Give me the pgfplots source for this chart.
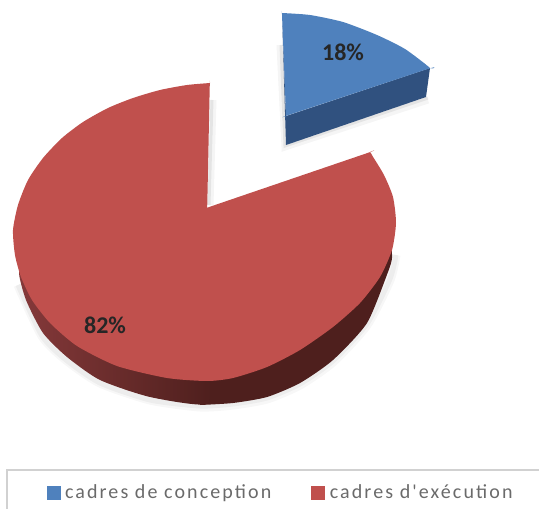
\documentclass[border=0pt]{standalone}
\usepackage{fontspec}
\setmainfont{Carlito}
\newfontfamily\legfont[LetterSpace=10.5]{Carlito}
\usepackage{pgfplots}
\pgfplotsset{compat=1.18}
\definecolor{redtop}{HTML}{C0504D}
\definecolor{redside}{HTML}{4E1F1D}
\definecolor{redsideL}{HTML}{85393A}
\definecolor{bluetop}{HTML}{4F81BD}
\definecolor{blueside}{HTML}{30517F}
\definecolor{txt}{HTML}{6A6A6A}
\begin{document}
\begin{tikzpicture}
\begin{axis}[
  width=539pt, height=509pt, scale only axis,
  xmin=0, xmax=539, ymin=0, ymax=509, y dir=reverse,
  hide axis, clip=true,
  legend columns=2,
  legend style={at={(axis cs:46.5,492.5)}, anchor=west, draw=none, fill=none,
    inner sep=0pt, outer sep=0pt,
    font=\legfont\fontsize{20}{20}\selectfont\color{txt},
    /tikz/every odd column/.append style={column sep=2.5pt},
    /tikz/every even column/.append style={column sep=38pt}},
  legend cell align=left,
  legend image code/.code={\fill[#1] (0pt,-7pt) rectangle (14pt,7pt);},
]
% page frame, keeps the picture at the reference's size
\addplot[forget plot, draw=none] coordinates {(0,0)(539,509)};
% legend frame
\addplot[forget plot, draw=black!18, line width=1.2pt] coordinates {(7,509)(7,470)(539,470)};
% soft shadows
\addplot[forget plot, draw=black, opacity=.03, line width=9pt, smooth, tension=.4] coordinates {(18,285)(42,336)(66,360)(100,383)(150,400)(200,407)(233,405)(267,399)(300,385)(333,362)(367,325)(390,280)(396,255)};
\addplot[forget plot, draw=black, opacity=.04, line width=5pt, smooth, tension=.4] coordinates {(18,285)(42,336)(66,360)(100,383)(150,400)(200,406)(233,404)(267,398)(300,384)(333,361)(367,324)(390,279)(396,255)};
\addplot[forget plot, draw=black, opacity=.04, line width=7pt] coordinates {(213,100)(210,205)};
\addplot[forget plot, draw=black, opacity=.07, line width=3pt] coordinates {(212,100)(209,205)};
\addplot[forget plot, draw=black, opacity=.04, line width=7pt] coordinates {(280,45)(285,147)(428,100)};
\addplot[forget plot, draw=black, opacity=.07, line width=3pt] coordinates {(281,45)(285,146)(428,98)};
% red side
\addplot[forget plot, draw=none, fill=redside, smooth, tension=.4] coordinates {(200,370)(233,367)(267,357)(300,340)(333,317)(360,293)(378,270)(390,245)(392,258)(388,272)(367,323)(333,360)(300,383)(267,397)(233,403)(200,405)};
\addplot[forget plot, draw=none, left color=redsideL, right color=redside, smooth, tension=.4] coordinates {(30,265)(40,290)(60,313)(87,337)(127,356)(177,368)(207,372)(207,404)(150,397)(100,380)(67,357)(43,333)(26,300)(19,272)(30,265)};
% red top
\addplot[draw=none, fill=redtop, smooth, tension=.4, forget plot] coordinates {(210,83)(187,85)(160,90)(133,98)(108,108)(83,122)(62,138)(43,158)(28,180)(18,205)(13,230)(15,255)(21,277)(32,300)(50,323)(77,346)(117,366)(167,378)(207,381)(233,378)(267,367)(300,350)(333,327)(360,303)(380,277)(392,250)(396,223)(393,197)(384,175)(372.5,156)(370,152)(366,153.5)(215,205)(207,208)(207.3,203)(209.7,88)(210,83)};
% blue side
\addplot[forget plot, draw=none, fill=blueside] coordinates {(282,13)(286,145)(426,97)(430,68)(286,116)};
% blue top
\addplot[draw=none, fill=bluetop, smooth, tension=.4, forget plot] coordinates {(282,13)(310,15)(343,22)(377,35)(405,49)(430,68)(426,69.5)(290,114.5)(286,116)(285.9,112)(282.1,17)(282,13)};
% legend entries
\addlegendimage{fill=bluetop, draw=none}
\addlegendentry{cadres de conception}
\addlegendimage{fill=redtop, draw=none}
\addlegendentry{cadres d'exécution}
\node[font=\bfseries\fontsize{24}{24}\selectfont, text=black!85] at (axis cs:343,52) {18\%};
\node[font=\bfseries\fontsize{24}{24}\selectfont, text=black!85] at (axis cs:105,325) {82\%};
\end{axis}
\end{tikzpicture}
\end{document}
